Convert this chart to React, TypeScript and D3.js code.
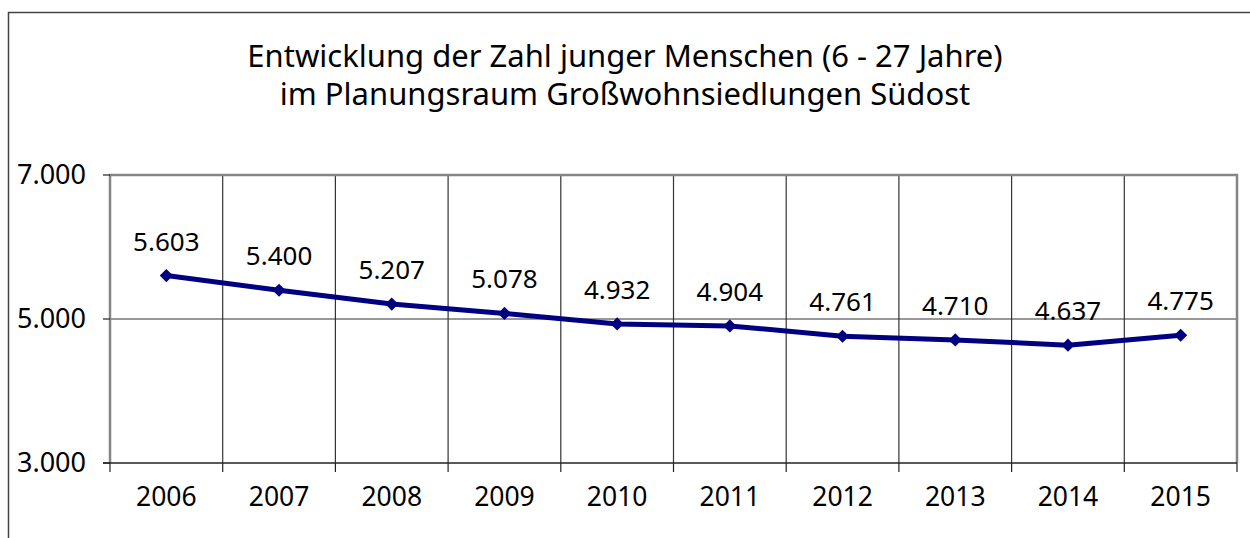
import { useEffect, useRef } from "react";
import * as d3 from "d3";

const years = ["2006", "2007", "2008", "2009", "2010", "2011", "2012", "2013", "2014", "2015"];
const values = [5603, 5400, 5207, 5078, 4932, 4904, 4761, 4710, 4637, 4775];
const yTicks = [3000, 5000, 7000];
const titleLines = [
  "Entwicklung der Zahl junger Menschen (6 - 27 Jahre)",
  "im Planungsraum Großwohnsiedlungen Südost",
];

const FONT = "'Noto Sans', 'Open Sans', sans-serif";

const App = () => {
  const ref = useRef<SVGSVGElement>(null);

  useEffect(() => {
    const W = 1250;
    const H = 538;
    const margin = { top: 175, right: 13, bottom: 75, left: 110 };
    const width = W - margin.left - margin.right;
    const height = H - margin.top - margin.bottom;

    const svg = d3.select(ref.current);
    svg.selectAll("*").remove();

    const de = d3.formatLocale({ decimal: ",", thousands: ".", grouping: [3], currency: ["", "€"] });
    const fmt = de.format(",d");

    // outer frame (cut off at right and bottom)
    svg.append("path")
      .attr("d", `M8.5,${H}V12.5H${W}`)
      .attr("fill", "none")
      .attr("stroke", "#444")
      .attr("stroke-width", 1.5);

    // title
    svg.append("text")
      .attr("font-family", FONT)
      .attr("font-size", 31)
      .attr("fill", "#000")
      .attr("text-anchor", "middle")
      .selectAll("tspan")
      .data(titleLines)
      .join("tspan")
      .attr("x", 625)
      .attr("y", (_d, i) => 67 + i * 38)
      .text(d => d);

    const g = svg.append("g").attr("transform", `translate(${margin.left},${margin.top})`);

    const x = d3.scaleBand().domain(years).range([0, width]);
    const y = d3.scaleLinear().domain([3000, 7000]).range([height, 0]);

    // vertical gridlines at category boundaries
    g.selectAll(".vgrid")
      .data(years.slice(1))
      .join("line")
      .attr("x1", d => x(d)!)
      .attr("x2", d => x(d)!)
      .attr("y1", 0)
      .attr("y2", height)
      .attr("stroke", "#333")
      .attr("stroke-width", 1.2);

    // horizontal gridlines
    g.selectAll(".hgrid")
      .data(yTicks.slice(1, -1))
      .join("line")
      .attr("x1", 0)
      .attr("x2", width)
      .attr("y1", d => y(d))
      .attr("y2", d => y(d))
      .attr("stroke", "#333")
      .attr("stroke-width", 1.2);

    // plot border (top, right, left)
    g.append("path")
      .attr("d", `M0,${height}V0H${width}V${height}`)
      .attr("fill", "none")
      .attr("stroke", "#858585")
      .attr("stroke-width", 2.5);

    // x axis
    g.append("line")
      .attr("x1", -7).attr("x2", width)
      .attr("y1", height).attr("y2", height)
      .attr("stroke", "#222").attr("stroke-width", 1.5);
    const bounds = [...years.map(d => x(d)!), width];
    g.selectAll(".xtick")
      .data(bounds)
      .join("line")
      .attr("x1", d => d).attr("x2", d => d)
      .attr("y1", height).attr("y2", height + 9)
      .attr("stroke", "#222").attr("stroke-width", 1.2);
    g.selectAll(".xlabel")
      .data(years)
      .join("text")
      .attr("x", d => x(d)! + x.bandwidth() / 2)
      .attr("y", height + 43)
      .attr("text-anchor", "middle")
      .attr("font-family", FONT)
      .attr("font-size", 26.5)
      .text(d => d);

    // y axis ticks + labels
    g.selectAll(".ytick")
      .data(yTicks)
      .join("line")
      .attr("x1", -7).attr("x2", 0)
      .attr("y1", d => y(d)).attr("y2", d => y(d))
      .attr("stroke", "#222").attr("stroke-width", 1.2);
    g.selectAll(".ylabel")
      .data(yTicks)
      .join("text")
      .attr("x", -24)
      .attr("y", d => y(d) + 9)
      .attr("text-anchor", "end")
      .attr("font-family", FONT)
      .attr("font-size", 27)
      .text(d => fmt(d));

    const pts = years.map((yr, i) => ({ yr, v: values[i] }));
    const cx = (d: { yr: string }) => x(d.yr)! + x.bandwidth() / 2;

    // data labels
    g.selectAll(".dlabel")
      .data(pts)
      .join("text")
      .attr("x", cx)
      .attr("y", d => y(d.v) - 25)
      .attr("text-anchor", "middle")
      .attr("font-family", FONT)
      .attr("font-size", 26)
      .text(d => fmt(d.v));

    // line
    const line = d3.line<{ yr: string; v: number }>()
      .x(cx)
      .y(d => y(d.v));
    g.append("path")
      .datum(pts)
      .attr("fill", "none")
      .attr("stroke", "#000080")
      .attr("stroke-width", 5)
      .attr("stroke-linejoin", "round")
      .attr("d", line);

    // diamond markers
    g.selectAll(".marker")
      .data(pts)
      .join("path")
      .attr("transform", d => `translate(${cx(d)},${y(d.v)})`)
      .attr("d", d3.symbol(d3.symbolDiamond2, 110)())
      .attr("fill", "#000080");
  }, []);

  return <svg ref={ref} width={1250} height={538} style={{ position: "absolute", left: 0, top: 0, background: "#fff" }}></svg>;
};

export default App;
